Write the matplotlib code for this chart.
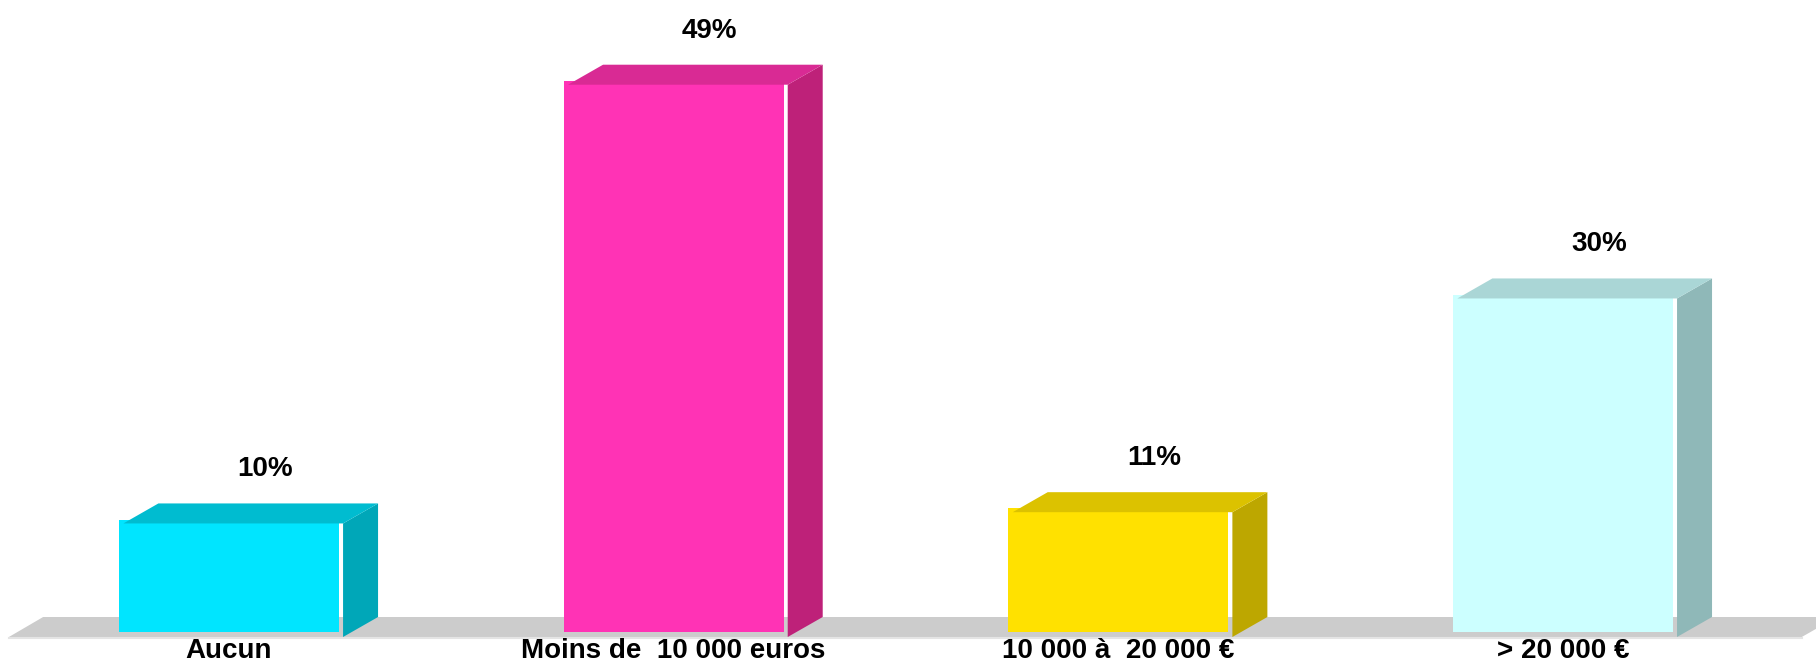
import matplotlib.pyplot as plt
import numpy as np

categories = ["Aucun", "Moins de  10 000 euros", "10 000 à  20 000 €", "> 20 000 €"]
values = [10, 49, 11, 30]
labels = ["10%", "49%", "11%", "30%"]

front_colors = ["#00E5FF", "#FF33B5", "#FFE100", "#CCFFFF"]
top_colors = ["#00BCD0", "#D92A94", "#DCC200", "#AAD6D6"]
side_colors = ["#00A7B8", "#BE2179", "#BDA700", "#8FB8B8"]

plt.rcParams['font.family'] = ['Liberation Sans', 'DejaVu Sans']

fig = plt.figure(figsize=(18.16, 6.62), dpi=100)
ax = fig.add_axes([0, 0, 1, 1])
ax.set_xlim(-0.515, 3.569)
ax.set_ylim(-2.667, 56.18)
ax.axis('off')

w = 0.495      # bar width
dx = 0.0787    # depth offset in x
dy = 1.778     # depth offset in y
gap = 0.009

# floor
ax.fill([-0.495, 3.537, 3.616, -0.418], [-0.444, -0.444, 1.333, 1.333],
        color="#CCCCCC", lw=0, zorder=1)
ax.plot([-0.495, 3.537], [-0.52, -0.52], color="#E4E4E4", lw=1.5, zorder=1)

x = np.arange(len(values))
for i, v in enumerate(values):
    left = x[i] - w / 2
    right = x[i] + w / 2
    # side face
    sx = right + gap
    ax.fill([sx, sx + dx, sx + dx, sx], [-0.444, 1.333, v - 0.35 + dy, v - 0.35],
            color=side_colors[i], lw=0, zorder=2)
    # front face
    ax.fill([left, right, right, left], [0, 0, v, v],
            color=front_colors[i], lw=0, zorder=3)
    # top face
    ax.fill([left + 0.01, sx, sx + dx, left + 0.01 + dx],
            [v - 0.35, v - 0.35, v - 0.35 + dy, v - 0.35 + dy],
            color=top_colors[i], lw=0, zorder=4)
    ax.text(x[i] + 0.081, v + 4.45, labels[i], ha='center', va='center',
            fontsize=20, fontweight='bold', zorder=5)
    ax.text(x[i], -1.7, categories[i], ha='center', va='center',
            fontsize=20, fontweight='bold', zorder=5)

plt.savefig("out.png", dpi=100)
